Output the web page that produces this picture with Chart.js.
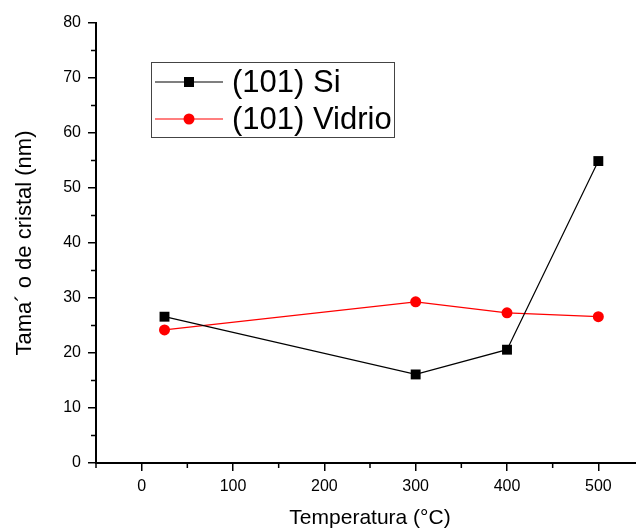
<!DOCTYPE html>
<html>
<head>
<meta charset="utf-8">
<script src="https://cdn.jsdelivr.net/npm/chart.js@4.4.0/dist/chart.umd.min.js"></script>
<style>
  html, body { margin: 0; padding: 0; background: #fff; overflow: hidden; }
</style>
</head>
<body>
<canvas id="crystalChart" width="651" height="531"></canvas>
<script>
// Temperature (°C) and crystal size (nm)
var temps = [25, 300, 400, 500];
var siSizes = [26.6, 16.1, 20.6, 54.9];
var vidrioSizes = [24.2, 29.3, 27.3, 26.6];
var seriesNames = ['(101) Si', '(101) Vidrio'];

var xTicks = [0, 100, 200, 300, 400, 500];
var xMinor = [-50, 50, 150, 250, 350, 450, 550];
var yTicks = [0, 10, 20, 30, 40, 50, 60, 70, 80];
var yMinor = [5, 15, 25, 35, 45, 55, 65, 75];

function toPoints(xs, ys) {
    return xs.map(function (x, i) { return { x: x, y: ys[i] }; });
}

// small outward minor ticks, Origin style
var minorTicks = {
    id: 'minorTicks',
    afterDraw: function (chart) {
        var ctx = chart.ctx;
        var xs = chart.scales.x, ys = chart.scales.y;
        var area = chart.chartArea;
        ctx.save();
        ctx.strokeStyle = '#000';
        ctx.lineWidth = 1.5;
        ctx.beginPath();
        xMinor.forEach(function (v) {
            var px = xs.getPixelForValue(v);
            ctx.moveTo(px, area.bottom);
            ctx.lineTo(px, area.bottom + 5);
        });
        yMinor.forEach(function (v) {
            var py = ys.getPixelForValue(v);
            ctx.moveTo(area.left, py);
            ctx.lineTo(area.left - 5, py);
        });
        ctx.stroke();
        ctx.restore();
    }
};

// boxed legend inside the plot
var boxLegend = {
    id: 'boxLegend',
    afterDraw: function (chart) {
        var ctx = chart.ctx;
        ctx.save();
        ctx.strokeStyle = '#444';
        ctx.lineWidth = 1;
        ctx.strokeRect(151.5, 62.5, 243, 75);
        var rows = [82, 119];
        chart.data.datasets.forEach(function (ds, i) {
            var y = rows[i];
            ctx.strokeStyle = ds.borderColor;
            ctx.lineWidth = 1.2;
            ctx.beginPath();
            ctx.moveTo(155, y);
            ctx.lineTo(223, y);
            ctx.stroke();
            ctx.fillStyle = ds.backgroundColor;
            if (ds.pointStyle === 'rect') {
                ctx.fillRect(184, y - 5, 10, 10);
            } else {
                ctx.beginPath();
                ctx.arc(189, y, 5.5, 0, Math.PI * 2);
                ctx.fill();
            }
            ctx.fillStyle = '#000';
            ctx.font = '31px "Liberation Sans", Arial, sans-serif';
            ctx.textBaseline = 'middle';
            ctx.fillText(ds.label, 232, y + 1);
        });
        ctx.restore();
    }
};

var ctx = document.getElementById('crystalChart').getContext('2d');
var chart = new Chart(ctx, {
    type: 'line',
    data: {
        datasets: [{
            label: seriesNames[0],
            data: toPoints(temps, siSizes),
            borderColor: '#000',
            backgroundColor: '#000',
            borderWidth: 1.2,
            pointStyle: 'rect',
            pointRadius: 7,
            pointBorderWidth: 0,
            tension: 0
        }, {
            label: seriesNames[1],
            data: toPoints(temps, vidrioSizes),
            borderColor: '#ff0000',
            backgroundColor: '#ff0000',
            borderWidth: 1.2,
            pointStyle: 'circle',
            pointRadius: 5.5,
            pointBorderWidth: 0,
            tension: 0
        }]
    },
    options: {
        responsive: false,
        animation: false,
        layout: {
            padding: { top: 23, right: 1, left: 0, bottom: 0 }
        },
        plugins: {
            legend: { display: false },
            tooltip: { enabled: false }
        },
        scales: {
            x: {
                type: 'linear',
                min: -50,
                max: 550,
                afterBuildTicks: function (scale) {
                    scale.ticks = xTicks.map(function (v) { return { value: v }; });
                },
                afterFit: function (scale) { scale.height = 68; },
                border: { color: '#000', width: 2 },
                grid: { drawOnChartArea: false, drawTicks: true, tickLength: 8, color: '#000', lineWidth: 1.5 },
                ticks: {
                    color: '#000',
                    padding: 6,
                    maxRotation: 0,
                    font: { family: '"Liberation Sans", Arial, sans-serif', size: 16 }
                },
                title: {
                    display: true,
                    text: 'Temperatura (°C)',
                    color: '#000',
                    padding: { top: 2, bottom: 0 },
                    font: { family: '"Liberation Sans", Arial, sans-serif', size: 21 }
                }
            },
            y: {
                min: 0,
                max: 80,
                afterBuildTicks: function (scale) {
                    scale.ticks = yTicks.map(function (v) { return { value: v }; });
                },
                afterFit: function (scale) { scale.width = 96; },
                border: { color: '#000', width: 2 },
                grid: { drawOnChartArea: false, drawTicks: true, tickLength: 8, color: '#000', lineWidth: 1.5 },
                ticks: {
                    color: '#000',
                    padding: 7,
                    font: { family: '"Liberation Sans", Arial, sans-serif', size: 16 }
                },
                title: {
                    display: true,
                    text: 'Tama´ o de cristal (nm)',
                    color: '#000',
                    padding: { top: 12, bottom: 0 },
                    font: { family: '"Liberation Sans", Arial, sans-serif', size: 22 }
                }
            }
        }
    },
    plugins: [minorTicks, boxLegend]
});
</script>
</body>
</html>
